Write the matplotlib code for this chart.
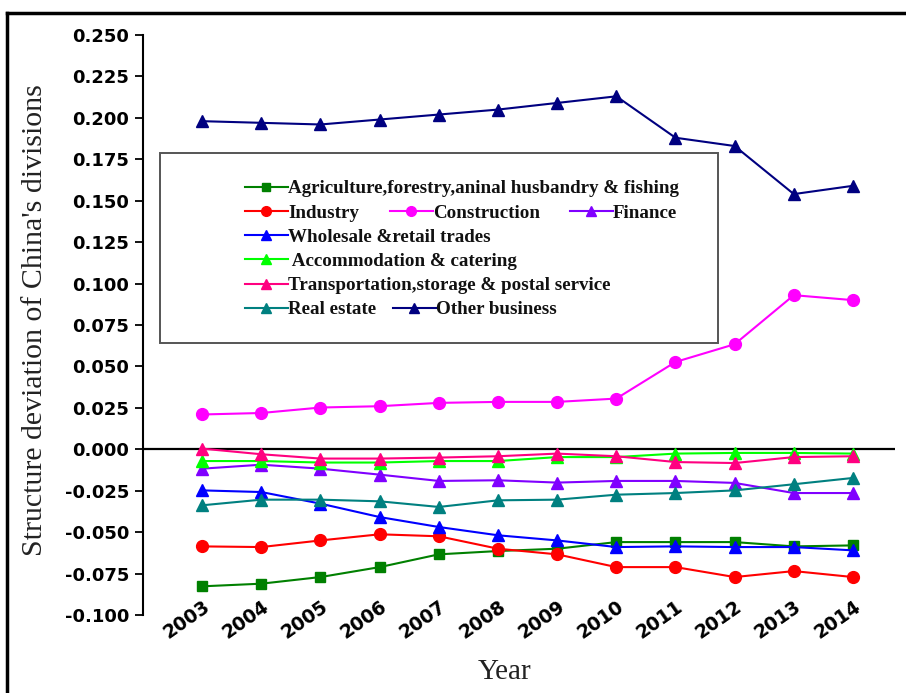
import matplotlib
matplotlib.use("Agg")
import matplotlib.pyplot as plt
from matplotlib.lines import Line2D
from matplotlib.patches import Rectangle

W, H = 906, 693

years = [2003, 2004, 2005, 2006, 2007, 2008, 2009, 2010, 2011, 2012, 2013, 2014]

agriculture = [-0.0827, -0.0811, -0.0771, -0.0711, -0.0634, -0.0614, -0.0600, -0.0560, -0.0560, -0.0560, -0.0586, -0.0580]
industry = [-0.0586, -0.0590, -0.0550, -0.0513, -0.0525, -0.0600, -0.0634, -0.0711, -0.0711, -0.0771, -0.0735, -0.0771]
construction = [0.0210, 0.0219, 0.0252, 0.0260, 0.0280, 0.0286, 0.0286, 0.0306, 0.0527, 0.0634, 0.0930, 0.0900]
finance = [-0.0117, -0.0093, -0.0117, -0.0153, -0.0191, -0.0187, -0.0201, -0.0191, -0.0191, -0.0203, -0.0264, -0.0264]
wholesale = [-0.0248, -0.0258, -0.0328, -0.0409, -0.0469, -0.0519, -0.0550, -0.0590, -0.0586, -0.0590, -0.0590, -0.0610]
accommodation = [-0.0071, -0.0071, -0.0080, -0.0080, -0.0071, -0.0071, -0.0047, -0.0047, -0.0026, -0.0022, -0.0022, -0.0026]
transportation = [0.0004, -0.0030, -0.0056, -0.0056, -0.0050, -0.0042, -0.0026, -0.0042, -0.0077, -0.0083, -0.0047, -0.0042]
real_estate = [-0.0338, -0.0304, -0.0304, -0.0314, -0.0348, -0.0308, -0.0304, -0.0274, -0.0264, -0.0248, -0.0211, -0.0173]
other_business = [0.198, 0.197, 0.196, 0.199, 0.202, 0.205, 0.209, 0.213, 0.188, 0.183, 0.154, 0.159]

series = [
    ("Agriculture,forestry,aninal husbandry & fishing", agriculture, "#008000", "s"),
    ("Industry", industry, "#FF0000", "o"),
    ("Construction", construction, "#FF00FF", "o"),
    ("Finance", finance, "#8000FF", "^"),
    ("Wholesale &retail trades", wholesale, "#0000FF", "^"),
    (" Accommodation & catering", accommodation, "#00FF00", "^"),
    ("Transportation,storage & postal service", transportation, "#FF0080", "^"),
    ("Real estate", real_estate, "#008080", "^"),
    ("Other business", other_business, "#000080", "^"),
]

yticks = [-0.100, -0.075, -0.050, -0.025, 0.000, 0.025, 0.050, 0.075, 0.100,
          0.125, 0.150, 0.175, 0.200, 0.225, 0.250]


def fx(x):
    return x / W


def fy(y):
    return 1 - y / H


fig = plt.figure(figsize=(W / 100, H / 100), dpi=100)
fig.patch.set_facecolor("white")

ax_left, ax_right, ax_top, ax_bottom = 143, 895, 35, 615
ax = fig.add_axes([fx(ax_left), fy(ax_bottom), fx(ax_right - ax_left), (ax_bottom - ax_top) / H])

for label, vals, color, marker in series:
    ms = 7 if marker == "s" else 8.5
    ax.plot(years, vals, color=color, lw=1.5, marker=marker, ms=ms,
            markerfacecolor=color, markeredgecolor=color, zorder=3)

ax.axhline(0, color="black", lw=1.6, zorder=2)

ax.set_xlim(2002.0, 2014.71)
ax.set_ylim(-0.100, 0.250)

for side in ("top", "right", "bottom"):
    ax.spines[side].set_visible(False)
ax.spines["left"].set_linewidth(1.5)

ax.set_yticks(yticks)
ax.set_yticklabels([f"{v:.3f}" for v in yticks], fontsize=13, fontweight="bold",
                   family="DejaVu Sans")
ax.tick_params(axis="y", direction="out", length=6, width=1.3, pad=4)

ax.set_xticks(years)
ax.set_xticklabels([str(y) for y in years], fontsize=13.5, fontweight="bold",
                   family="DejaVu Sans", rotation=35, ha="right",
                   rotation_mode="anchor")
ax.tick_params(axis="x", length=0, pad=-13)

fig.text(fx(35), fy(320), "Structure deviation of China's divisions", rotation=90,
         ha="center", va="center", fontsize=21.5, family="Liberation Serif",
         color="#222222")
fig.text(fx(505), fy(672), "Year", ha="center", va="center", fontsize=21,
         family="Liberation Serif", color="#222222")

# legend panel
fig.patches.append(Rectangle((fx(160), fy(343)), fx(718 - 160), (343 - 153) / H,
                             transform=fig.transFigure, facecolor="white",
                             edgecolor="#555555", lw=1.4, zorder=5))

legend_slots = [
    (0, 245, 187), (1, 245, 211), (2, 390, 211), (3, 570, 211),
    (4, 245, 235), (5, 245, 259), (6, 245, 284), (7, 245, 308), (8, 393, 308),
]
for idx, x0, yrow in legend_slots:
    label, _, color, marker = series[idx]
    ms = 6 if marker == "s" else 7
    fig.add_artist(Line2D([fx(x0), fx(x0 + 43)], [fy(yrow), fy(yrow)],
                          transform=fig.transFigure, color=color, lw=1.5, zorder=6))
    fig.add_artist(Line2D([fx(x0 + 21)], [fy(yrow)], transform=fig.transFigure,
                          marker=marker, ms=ms, color=color, markeredgecolor=color,
                          zorder=7))
    fig.text(fx(x0 + 43), fy(yrow), label, ha="left", va="center_baseline",
             fontsize=13.7, fontweight="bold", family="Liberation Serif",
             color="#111111", zorder=7)

# outer frame
fig.add_artist(Line2D([fx(7), fx(906)], [fy(13), fy(13)], transform=fig.transFigure,
                      color="black", lw=2.5))
fig.add_artist(Line2D([fx(7), fx(7)], [fy(13), fy(693)], transform=fig.transFigure,
                      color="black", lw=2.5))

fig.savefig("out.png", dpi=100, facecolor="white")
